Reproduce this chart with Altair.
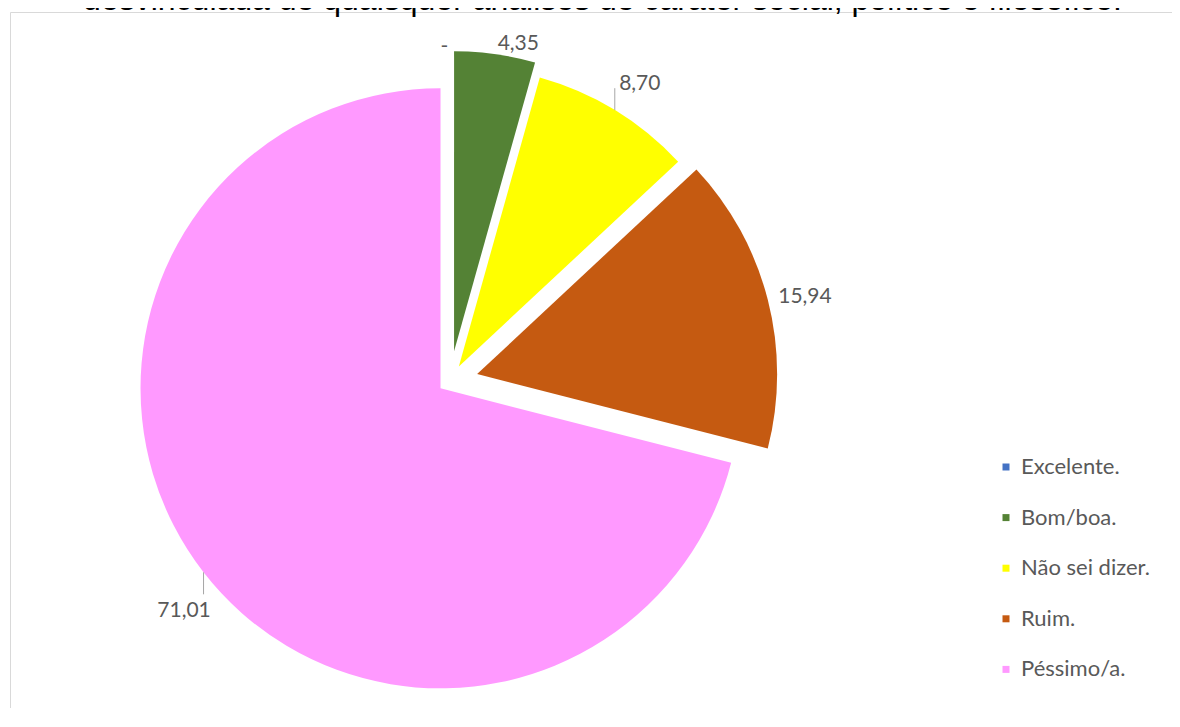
import altair as alt
import pandas as pd

# ---- data ----
CATEGORIES = ["Excelente.", "Bom/boa.", "Não sei dizer.", "Ruim.", "Péssimo/a."]
VALUES = [0.0, 4.35, 8.70, 15.94, 71.01]
LABELS = ["-", "4,35", "8,70", "15,94", "71,01"]
TITLE = "desvinculada de quaisquer análises de caráter social, político e filosófico."

# ---- styling ----
COLORS = ["#4472C4", "#548235", "#FFFF00", "#C55A11", "#FF99FF"]
EXPLODE_PX = {"Excelente.": 0, "Bom/boa.": 30, "Não sei dizer.": 17, "Ruim.": 28, "Péssimo/a.": 12}
WITH_LEADER = {"Não sei dizer.", "Péssimo/a."}

W, H = 1164, 700
CX, CY, R = 442, 373, 300
LABEL_R = 310
ZERO_LABEL_R = 334
LEADER_LEN = 22
FONT = "Lato"
TEXT_GRAY = "#595959"
FRAME_GRAY = "#D9D9D9"

df = pd.DataFrame({"cat": CATEGORIES, "value": VALUES, "label": LABELS})
df["idx"] = list(range(len(df)))
df["explode"] = df["cat"].map(EXPLODE_PX)
df["leader"] = df["cat"].isin(WITH_LEADER).astype(int)

base = (
    alt.Chart(df)
    .transform_joinaggregate(total="sum(value)")
    .transform_window(cum="sum(value)", sort=[alt.SortField("idx")], frame=[None, 0])
    .transform_calculate(t0="2*PI*(datum.cum - datum.value)/datum.total")
    .transform_calculate(t1="2*PI*datum.cum/datum.total")
    .transform_calculate(mid="(datum.t0 + datum.t1)/2")
    .transform_calculate(s="sin(datum.mid)")
    .transform_calculate(c="cos(datum.mid)")
    .transform_calculate(side="datum.s > 0.001 ? 1 : -1")
    .transform_calculate(cx=f"{CX} + datum.explode*datum.s")
    .transform_calculate(cy=f"{CY} - datum.explode*datum.c")
    .transform_calculate(ex=f"datum.cx + {R}*datum.s")
    .transform_calculate(ey=f"datum.cy - {R}*datum.c")
    .transform_calculate(hw="5.5*length(datum.label)")
    .transform_calculate(lr=f"datum.value == 0 ? {ZERO_LABEL_R} : {LABEL_R}")
    .transform_calculate(ay=f"datum.ey + (datum.c > 0 ? -{LEADER_LEN} : {LEADER_LEN})")
    .transform_calculate(
        lx="datum.leader == 1 ? datum.ex + datum.side*datum.hw + 5.5 - 2.5*datum.side"
           " : datum.cx + datum.lr*datum.s + datum.side*datum.hw"
    )
    .transform_calculate(
        ly="datum.leader == 1 ? datum.ay + (datum.c > 0 ? -4 : 17) : datum.cy - datum.lr*datum.c"
    )
)

one = pd.DataFrame({"f": [0]})
frame_top = alt.Chart(one).mark_rule(color=FRAME_GRAY, strokeWidth=1).encode(
    x=alt.value(2.5), x2=alt.value(W + 30), y=alt.value(4.5)
)
frame_left = alt.Chart(one).mark_rule(color=FRAME_GRAY, strokeWidth=1).encode(
    x=alt.value(2.5), y=alt.value(4.5), y2=alt.value(H + 30)
)

arcs = base.mark_arc(radius=R).encode(
    x=alt.X("cx:Q", scale=None, stack=False),
    y=alt.Y("cy:Q", scale=None, stack=False),
    theta=alt.Theta("t0:Q", scale=None),
    theta2=alt.Theta2("t1:Q"),
    color=alt.Color(
        "cat:N",
        scale=alt.Scale(domain=CATEGORIES, range=COLORS),
        legend=alt.Legend(
            orient="none",
            legendX=987,
            legendY=448,
            title=None,
            symbolType="square",
            symbolSize=49,
            symbolStrokeWidth=0,
            labelFont=FONT,
            labelFontSize=22,
            labelColor=TEXT_GRAY,
            labelOffset=4,
            rowPadding=28.6,
            padding=0,
        ),
    ),
)

leaders = base.transform_filter("datum.leader == 1").mark_rule(color="#A6A6A6", strokeWidth=1).encode(
    x=alt.X("ex:Q", scale=None, stack=False),
    y=alt.Y("ey:Q", scale=None, stack=False),
    y2=alt.Y2("ay:Q"),
)

labels = base.mark_text(font=FONT, fontSize=21, color=TEXT_GRAY).encode(
    x=alt.X("lx:Q", scale=None, stack=False),
    y=alt.Y("ly:Q", scale=None, stack=False),
    text=alt.Text("label:N"),
)

title = (
    alt.Chart(pd.DataFrame({"t": [TITLE]}))
    .mark_text(font="Liberation Sans", fontSize=32, color="#000000", baseline="alphabetic", align="center")
    .encode(x=alt.value(594.5), y=alt.value(2), text=alt.Text("t:N"))
)

chart = (
    alt.layer(frame_top, frame_left, arcs, leaders, labels, title)
    .properties(width=W, height=H, padding=0, autosize=alt.AutoSizeParams(type="none"))
    .configure_view(stroke="transparent", strokeWidth=0)
)

chart.save("out.html", embed_options={"renderer": "svg", "actions": False})
